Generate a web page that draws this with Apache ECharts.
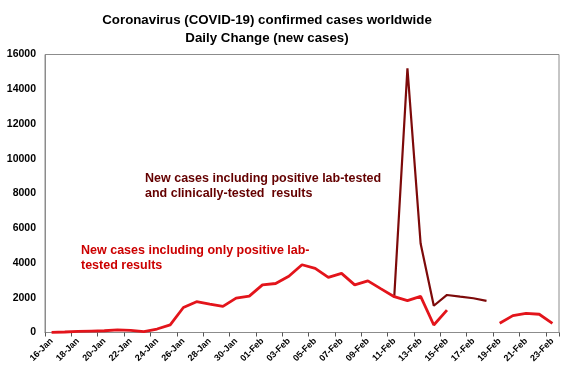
<!DOCTYPE html>
<html>
<head>
<meta charset="utf-8">
<script src="https://cdn.jsdelivr.net/npm/echarts@6/dist/echarts.min.js"></script>
<style>html,body{margin:0;padding:0;background:#fff}#c{width:570px;height:374px}</style>
</head>
<body>
<div id="c"></div>
<script>
var categories = ['16-Jan','17-Jan','18-Jan','19-Jan','20-Jan','21-Jan','22-Jan','23-Jan','24-Jan','25-Jan',
  '26-Jan','27-Jan','28-Jan','29-Jan','30-Jan','31-Jan','01-Feb','02-Feb','03-Feb','04-Feb',
  '05-Feb','06-Feb','07-Feb','08-Feb','09-Feb','10-Feb','11-Feb','12-Feb','13-Feb','14-Feb',
  '15-Feb','16-Feb','17-Feb','18-Feb','19-Feb','20-Feb','21-Feb','22-Feb','23-Feb'];
var labTested = [10,30,60,80,100,150,120,50,200,440,
  1440,1770,1630,1500,1980,2090,2740,2820,3240,3900,
  3690,3170,3400,2740,2970,2510,2060,1830,2080,430,
  1290,null,null,null,530,970,1100,1050,530];
var clinicallyTested = [null,null,null,null,null,null,null,null,null,null,
  null,null,null,null,null,null,null,null,null,null,
  null,null,null,null,null,null,2060,15200,5120,1540,
  2160,2060,1970,1820,null,null,null,null,null];
var yTicks = [0,2000,4000,6000,8000,10000,12000,14000,16000];
var titleLines = ['Coronavirus (COVID-19) confirmed cases worldwide','Daily Change (new cases)'];
var noteDark = ['New cases including positive lab-tested','and clinically-tested  results'];
var noteRed = ['New cases including only positive lab-','tested results'];

var FONT = '"Liberation Sans", Arial, sans-serif';
var chart = echarts.init(document.getElementById('c'), null, {renderer:'canvas'});
chart.setOption({
  animation:false,
  backgroundColor:'#fff',
  title:{
    text:titleLines.join('\n'),
    left:262, top:7, textAlign:'center',
    textStyle:{fontFamily:FONT, fontSize:13.3, fontWeight:'bold', color:'#000', lineHeight:17.5}
  },
  grid:{left:45, right:11, top:54.5, bottom:41.5, show:true, borderColor:'#8c8c8c', borderWidth:1, backgroundColor:'transparent'},
  xAxis:{
    type:'category', data:categories, boundaryGap:true,
    axisLine:{lineStyle:{color:'#8c8c8c', width:1}},
    axisTick:{show:true, interval:1, length:4, lineStyle:{color:'#555'}},
    axisLabel:{interval:1, rotate:45, margin:7, fontFamily:FONT, fontSize:9, fontWeight:'bold', color:'#000'},
    splitLine:{show:false}
  },
  yAxis:{
    type:'value', min:yTicks[0], max:yTicks[yTicks.length-1], interval:yTicks[1]-yTicks[0],
    axisLine:{show:true, lineStyle:{color:'#8c8c8c', width:1}},
    axisTick:{show:false},
    axisLabel:{margin:9, fontFamily:FONT, fontSize:10.5, fontWeight:'bold', color:'#000',
      formatter:function(v){return String(v);}},
    splitLine:{show:false}
  },
  series:[
    {name:'clinical', type:'line', data:clinicallyTested, showSymbol:false, symbol:'none', connectNulls:false,
     lineStyle:{color:'#7d0a0a', width:2.2}, z:2},
    {name:'lab', type:'line', data:labTested, showSymbol:false, symbol:'none', connectNulls:false,
     lineStyle:{color:'#e3141b', width:2.8}, z:3}
  ],
  graphic:[
    {type:'text', left:145, top:171.5, style:{text:noteDark.join('\n'), font:'bold 12.5px '+FONT, fill:'#640000', lineHeight:15}},
    {type:'text', left:81, top:243, style:{text:noteRed.join('\n'), font:'bold 12.5px '+FONT, fill:'#cc0000', lineHeight:15}}
  ]
});
</script>
</body>
</html>
